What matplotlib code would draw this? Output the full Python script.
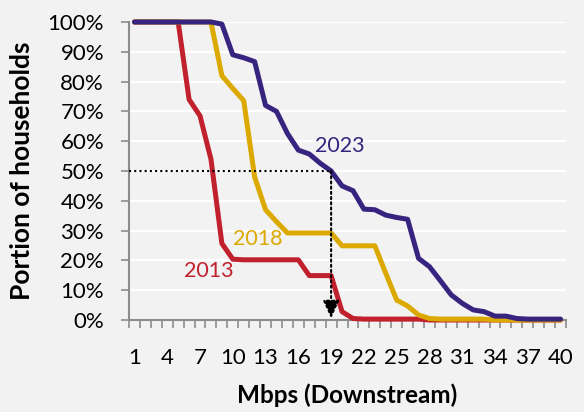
import matplotlib.pyplot as plt
import numpy as np

plt.rcParams['font.family'] = ['Lato', 'DejaVu Sans']

mbps = np.arange(1, 41)
tick_labels = [str(v) for v in range(1, 41, 3)]

y2013 = [100, 100, 100, 100, 100, 74, 68.5, 54, 25.7, 20.4,
         20.2, 20.2, 20.2, 20.2, 20.2, 20.2, 14.9, 14.9, 14.9, 2.8,
         0.5, 0.3, 0.3, 0.3, 0.3, 0.3, 0.3, 0, 0, 0,
         0, 0, 0, 0, 0, 0, 0, 0, 0, 0]
y2018 = [100, 100, 100, 100, 100, 100, 100, 100, 82, 77.7,
         73.6, 48, 37, 33, 29.2, 29.2, 29.2, 29.2, 29.2, 24.9,
         24.9, 24.9, 24.9, 15.7, 6.7, 4.7, 1.7, 0.5, 0.3, 0.3,
         0.3, 0.3, 0.3, 0, 0, 0, 0, 0, 0, 0]
y2023 = [100, 100, 100, 100, 100, 100, 100, 100, 99.3, 89,
         88, 86.7, 72, 70, 62.6, 57, 55.7, 52.6, 50, 45,
         43.4, 37.2, 37, 35.2, 34.4, 33.8, 20.7, 17.9, 13.2, 8.4,
         5.6, 3.4, 2.8, 1.3, 1.3, 0.5, 0.3, 0.3, 0.3, 0.3]

years = ['2013', '2018', '2023']
colors = ['#C0212C', '#DBA900', '#36247F']
series = [y2013, y2018, y2023]
label_pos = [(7.8, 16.3), (12.3, 27.3), (19.8, 58.5)]

marker_mbps = 19
marker_share = 0.5

bg = '#F2F2F2'
fig = plt.figure(figsize=(5.84, 4.12), dpi=100, facecolor=bg)
ax = fig.add_axes([0.2209, 0.2233, 0.7483, 0.7233], facecolor=bg)

for vals, c in zip(series, colors):
    ax.plot(mbps, np.array(vals) / 100, color=c, lw=3.6, solid_capstyle='round',
            solid_joinstyle='round', clip_on=False, zorder=3)

for yr, c, (lx, ly) in zip(years, colors, label_pos):
    ax.text(lx, ly / 100, yr, color=c, fontsize=15.5, ha='center', va='center')

# dotted guide at the median
ax.plot([0.5, marker_mbps], [marker_share, marker_share], color='black', ls=(0, (1, 1.5)), lw=1.5, zorder=4)
ax.annotate('', xy=(marker_mbps, 0.005), xytext=(marker_mbps, marker_share),
            arrowprops=dict(arrowstyle='-|>,head_length=1.1,head_width=0.5', color='black',
                            lw=1.5, ls=(0, (1, 1.5)), shrinkA=0, shrinkB=0), zorder=4)

ax.set_xlim(0.5, 40.5)
ax.set_ylim(0, 1)
ax.set_yticks(np.arange(0, 1.01, 0.1))
ax.set_yticklabels([f'{int(round(v * 100))}%' for v in np.arange(0, 1.01, 0.1)])
ax.set_xticks(range(1, 41, 3))
ax.set_xticklabels(tick_labels)
ax.set_xticks(np.arange(0.5, 41, 1), minor=True)

ax.grid(axis='y', color='white', lw=1.6, zorder=0)
ax.set_axisbelow(True)
for s in ['top', 'right']:
    ax.spines[s].set_visible(False)
for s in ['left', 'bottom']:
    ax.spines[s].set_color('#8C8C8C')
    ax.spines[s].set_linewidth(1.5)

ax.tick_params(axis='x', which='major', length=0, pad=20, labelsize=16)
ax.tick_params(axis='x', which='minor', length=6, width=1.2, color='#8C8C8C', direction='out')
ax.tick_params(axis='y', length=6, width=1.2, color='#8C8C8C', labelsize=16, pad=12)

ax.set_xlabel('Mbps (Downstream)', fontsize=17.5, fontweight='bold', labelpad=11)
ax.set_ylabel('Portion of households', fontsize=19, fontweight='bold', labelpad=10)

fig.savefig('out.png', dpi=100, facecolor=bg)
